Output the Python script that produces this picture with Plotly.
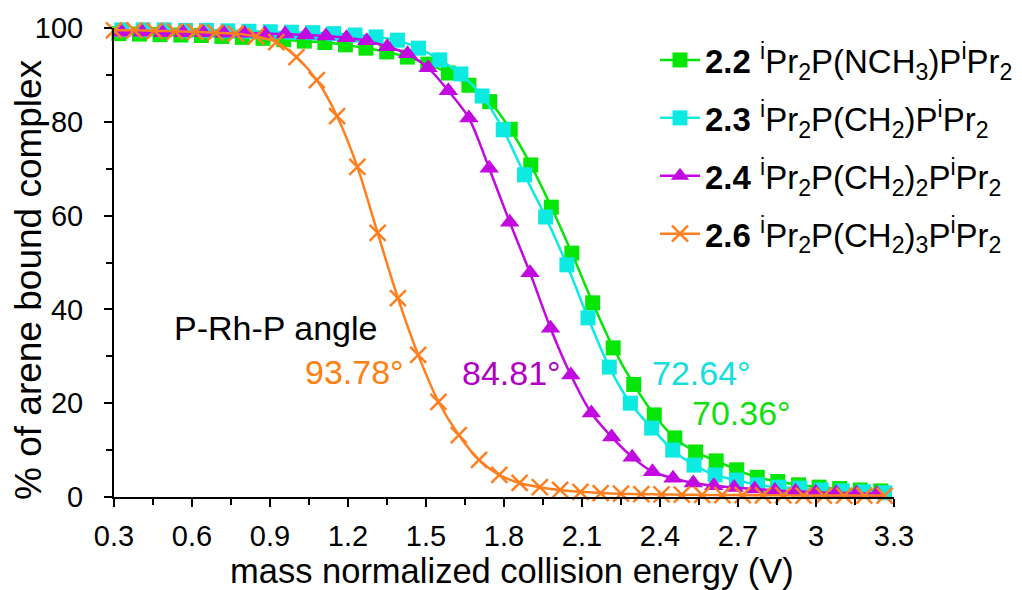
import plotly.graph_objects as go

# ---- data ----
x_22 = [0.319, 0.398, 0.477, 0.557, 0.636, 0.715, 0.794, 0.873, 0.953, 1.032,
        1.111, 1.190, 1.269, 1.349, 1.428, 1.507, 1.586, 1.665, 1.745, 1.824,
        1.903, 1.982, 2.061, 2.141, 2.220, 2.299, 2.378, 2.457, 2.537, 2.616,
        2.695, 2.774, 2.853, 2.933, 3.012, 3.091, 3.170, 3.249]
y_22 = [98.8, 98.7, 98.6, 98.5, 98.4, 98.2, 98.0, 97.8, 97.5, 97.2,
        96.9, 96.4, 95.7, 94.9, 93.8, 92.3, 90.4, 87.8, 84.3, 78.4,
        70.8, 61.8, 52.0, 41.4, 31.8, 24.0, 17.5, 12.6, 9.6, 7.7,
        5.8, 4.2, 3.3, 2.6, 2.1, 1.8, 1.5, 1.3]

x_23 = [0.330, 0.412, 0.493, 0.575, 0.656, 0.738, 0.819, 0.901, 0.982, 1.064,
        1.145, 1.227, 1.308, 1.390, 1.471, 1.553, 1.634, 1.716, 1.797, 1.879,
        1.960, 2.042, 2.123, 2.205, 2.286, 2.368, 2.449, 2.531, 2.612, 2.694,
        2.775, 2.857, 2.938, 3.020, 3.101, 3.183, 3.264]
y_23 = [99.6, 99.6, 99.6, 99.5, 99.5, 99.4, 99.3, 99.2, 99.1, 99.0,
        98.8, 98.5, 98.1, 97.4, 95.7, 93.2, 90.2, 85.5, 78.3, 68.7,
        59.7, 49.5, 38.2, 27.7, 20.0, 14.7, 10.0, 6.8, 4.7, 3.6,
        2.6, 2.1, 1.9, 1.5, 1.3, 1.1, 0.9]

x_24 = [0.330, 0.409, 0.487, 0.566, 0.644, 0.723, 0.801, 0.880, 0.958, 1.037,
        1.115, 1.194, 1.272, 1.351, 1.429, 1.508, 1.586, 1.665, 1.743, 1.822,
        1.900, 1.979, 2.057, 2.136, 2.214, 2.293, 2.371, 2.450, 2.528, 2.607,
        2.685, 2.764, 2.842, 2.921, 2.999, 3.078, 3.156, 3.235]
y_24 = [99.1, 99.1, 99.0, 99.0, 99.0, 98.9, 98.9, 98.8, 98.7, 98.5,
        98.3, 97.9, 97.3, 96.0, 94.5, 91.5, 86.6, 80.8, 70.1, 58.6,
        47.8, 36.0, 26.0, 17.9, 12.8, 8.5, 5.4, 4.0, 3.0, 2.4,
        2.0, 1.7, 1.4, 1.2, 1.0, 0.9, 0.8, 0.7]

x_26 = [0.300, 0.378, 0.456, 0.534, 0.612, 0.690, 0.768, 0.846, 0.924, 1.002,
        1.080, 1.158, 1.236, 1.314, 1.392, 1.470, 1.548, 1.626, 1.704, 1.782,
        1.860, 1.938, 2.016, 2.094, 2.172, 2.250, 2.328, 2.406, 2.484, 2.562,
        2.640, 2.718, 2.796, 2.874, 2.952, 3.030, 3.108, 3.186, 3.264]
y_26 = [99.5, 99.5, 99.4, 99.3, 99.2, 99.0, 98.8, 98.2, 97.0, 93.8,
        88.9, 81.2, 70.4, 56.3, 42.4, 30.3, 20.3, 13.2, 7.9, 4.7,
        3.0, 2.1, 1.5, 1.1, 0.85, 0.7, 0.6, 0.55, 0.5, 0.45,
        0.4, 0.4, 0.35, 0.35, 0.3, 0.3, 0.3, 0.3, 0.3]

names = [
    "<b>2.2</b> <sup>i</sup>Pr<sub>2</sub>P(NCH<sub>3</sub>)P<sup>i</sup>Pr<sub>2</sub>",
    "<b>2.3</b> <sup>i</sup>Pr<sub>2</sub>P(CH<sub>2</sub>)P<sup>i</sup>Pr<sub>2</sub>",
    "<b>2.4</b> <sup>i</sup>Pr<sub>2</sub>P(CH<sub>2</sub>)<sub>2</sub>P<sup>i</sup>Pr<sub>2</sub>",
    "<b>2.6</b> <sup>i</sup>Pr<sub>2</sub>P(CH<sub>2</sub>)<sub>3</sub>P<sup>i</sup>Pr<sub>2</sub>",
]
tick_vals = [0.3, 0.6, 0.9, 1.2, 1.5, 1.8, 2.1, 2.4, 2.7, 3.0, 3.3]
tick_text = ["0.3", "0.6", "0.9", "1.2", "1.5", "1.8", "2.1", "2.4", "2.7", "3", "3.3"]

angle_labels = ["93.78°", "84.81°", "72.64°", "70.36°"]
angle_x = [1.226, 1.827, 2.561, 2.715]
angle_y = [26.6, 26.4, 26.4, 17.9]

GREEN = "#06E606"
CYAN = "#0DEAE2"
PURPLE = "#C209E0"
ORANGE = "#FF7F1F"
TXT = ["#FF8010", "#B000C4", "#14DEDE", "#10E010"]

FONT = "Liberation Sans, Arial, sans-serif"

fig = go.Figure()
series = [
    (x_22, y_22, GREEN, dict(symbol="square", size=15, color=GREEN)),
    (x_23, y_23, CYAN, dict(symbol="square", size=15, color=CYAN)),
    (x_24, y_24, PURPLE, dict(symbol="triangle-up", size=17, color=PURPLE)),
    (x_26, y_26, ORANGE, dict(symbol="x-thin", size=16, color=ORANGE,
                              line=dict(color=ORANGE, width=2.5))),
]
for i, (xs, ys, col, mk) in enumerate(series):
    fig.add_trace(go.Scatter(
        x=xs, y=ys, mode="lines+markers", name=names[i],
        line=dict(color=col, width=2.5, shape="spline", smoothing=0.8),
        marker=mk, cliponaxis=False, legendgroup=f"g{i}",
    ))

W, H = 1022, 590
L, R, T, B = 114, 128, 28, 93
PW, PH = W - L - R, H - T - B

annotations = [
    dict(x=0.923, y=36.0, xref="x", yref="y", text="P-Rh-P angle",
         showarrow=False, font=dict(family=FONT, size=34, color="black")),
    dict(x=(512 - L) / PW, y=(H - B - 571) / PH, xref="paper", yref="paper",
         xanchor="center", yanchor="middle",
         text="mass normalized collision energy (V)",
         showarrow=False, font=dict(family=FONT, size=34.5, color="black")),
    dict(x=(28 - L) / PW, y=(H - B - 280) / PH, xref="paper", yref="paper",
         xanchor="center", yanchor="middle",
         text="% of arene bound complex",
         textangle=-90, showarrow=False, font=dict(family=FONT, size=37, color="black")),
]
for t, ax, ay, c in zip(angle_labels, angle_x, angle_y, TXT):
    annotations.append(dict(x=ax, y=ay, xref="x", yref="y", text=t, showarrow=False,
                            font=dict(family=FONT, size=34, color=c)))

fig.update_layout(
    width=W, height=H,
    margin=dict(l=L, r=R, t=T, b=B, autoexpand=False),
    paper_bgcolor="white", plot_bgcolor="white",
    font=dict(family=FONT, color="black"),
    showlegend=True,
    legend=dict(x=655 / W, y=1 - 32 / H, xref="container", yref="container",
                xanchor="left", yanchor="top",
                bgcolor="rgba(0,0,0,0)", font=dict(family=FONT, size=33, color="black"),
                itemwidth=40, tracegroupgap=12),
    annotations=annotations,
    xaxis=dict(range=[0.3, 3.3], tickvals=tick_vals, ticktext=tick_text,
               showgrid=False, zeroline=False, showline=True, linecolor="black",
               linewidth=2, ticks="outside", ticklen=8, tickwidth=2, tickcolor="black",
               tickfont=dict(family=FONT, size=29, color="black"),
               ticklabelstandoff=4, automargin=False,
               minor=dict(dtick=0.15, tick0=0.3, ticks="outside", ticklen=6,
                          tickwidth=2, tickcolor="black")),
    yaxis=dict(range=[0, 100], dtick=20, showgrid=False, zeroline=False,
               showline=True, linecolor="black", linewidth=2, ticks="outside",
               ticklen=8, tickwidth=2, tickcolor="black",
               tickfont=dict(family=FONT, size=29, color="black"),
               ticklabelstandoff=15, automargin=False,
               minor=dict(dtick=10, ticks="outside", ticklen=6, tickwidth=2,
                          tickcolor="black")),
)

fig.write_html("out.html")
